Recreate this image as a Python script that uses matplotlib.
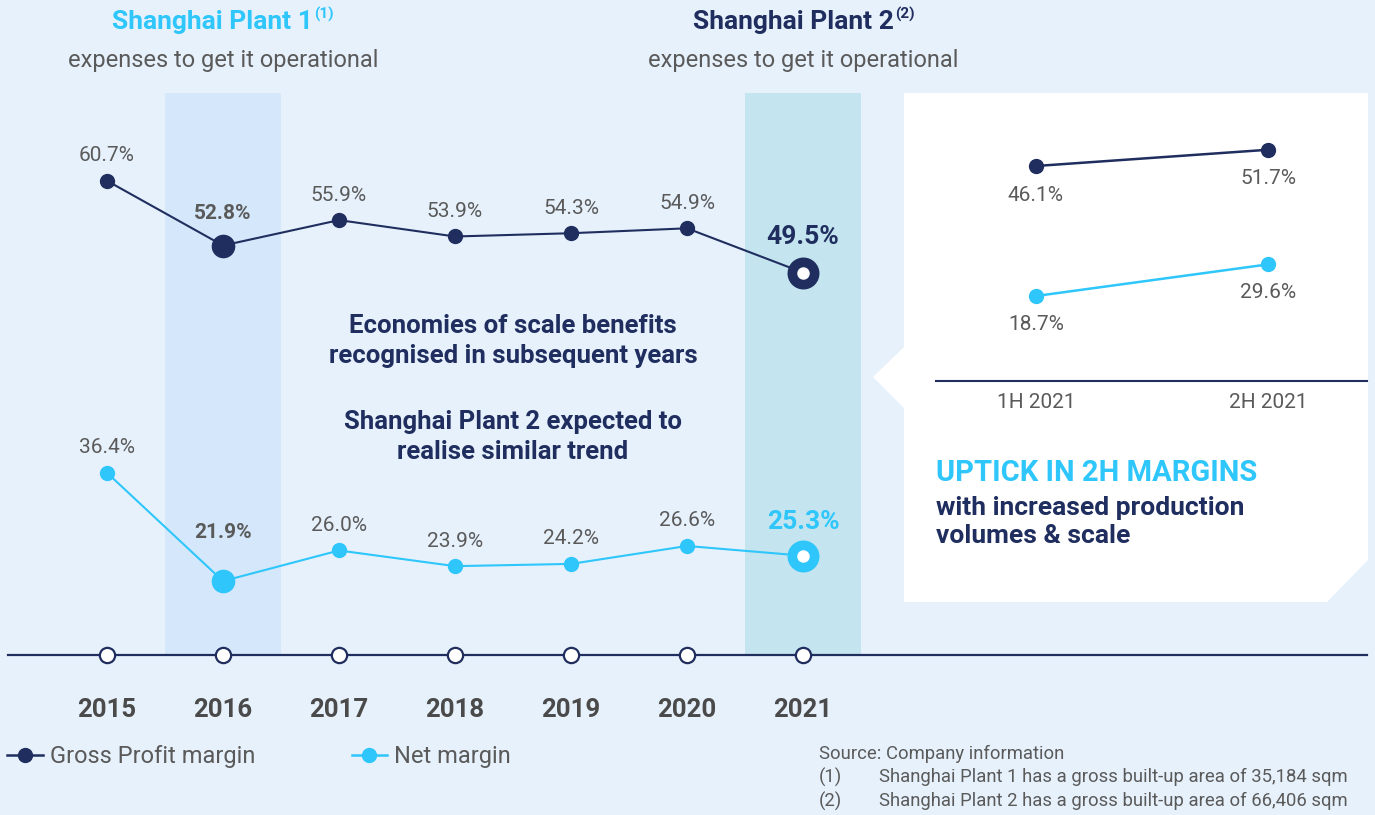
import matplotlib
matplotlib.use("Agg")
import matplotlib.pyplot as plt
from matplotlib.patches import Polygon
from matplotlib.lines import Line2D
from matplotlib.transforms import blended_transform_factory

plt.rcParams['font.family'] = ['Roboto', 'DejaVu Sans']

# ---------------- data ----------------
years = [2015, 2016, 2017, 2018, 2019, 2020, 2021]
gross_margin = [60.7, 52.8, 55.9, 53.9, 54.3, 54.9, 49.5]
net_margin = [36.4, 21.9, 26.0, 23.9, 24.2, 26.6, 25.3]
half_labels = ["1H 2021", "2H 2021"]
half_gross = [46.1, 51.7]
half_net = [18.7, 29.6]
highlight_plant1 = 2016
highlight_plant2 = 2021

# ---------------- style ----------------
BG = "#e7f1fb"
BAND1 = "#d5e8fb"
BAND2 = "#c4e5ef"
NAVY = "#1f2e5f"
CYAN = "#2ec6fb"
GRAY = "#5a5a5a"

W, H = 1375, 815
fig = plt.figure(figsize=(W / 100, H / 100), dpi=100)
fig.patch.set_facecolor(BG)

def fx(x):
    return x / W

def fy(y):
    return 1 - y / H

# --------------- white panel (behind axes) ---------------
panel = Polygon([(fx(904), fy(93)), (fx(1368), fy(93)), (fx(1368), fy(560)),
                 (fx(1327), fy(602)), (fx(904), fy(602)), (fx(904), fy(408)),
                 (fx(873), fy(377)), (fx(904), fy(347))],
                closed=True, transform=fig.transFigure, facecolor="white",
                edgecolor="none", zorder=-1)
fig.patches.append(panel)

# --------------- main axes ---------------
ax = fig.add_axes([0, 0, 1, 1])
ax.set_facecolor("none")
x0 = 2015 - 107 / 116
x1 = 2015 + (W - 107) / 116
ax.set_xlim(x0, x1)
ax.set_ylim(54.571 - (H - 231) / 8.19, 54.571 + 231 / 8.19)
ax.axis("off")

ax2 = ax.twinx()
ax2.set_ylim(26.329 - (H - 548) / 7.47, 26.329 + 548 / 7.47)
ax2.axis("off")

bt = blended_transform_factory(ax.transData, ax.transAxes)

# highlight bands
ax.axvspan(highlight_plant1 - 0.5, highlight_plant1 + 0.5, ymin=fy(655), ymax=fy(93),
           color=BAND1, lw=0, zorder=0)
ax.axvspan(highlight_plant2 - 0.5, highlight_plant2 + 0.5, ymin=fy(655), ymax=fy(93),
           color=BAND2, lw=0, zorder=0)

# timeline
ax.plot([fx(8), fx(1367)], [fy(655), fy(655)], transform=ax.transAxes,
        color=NAVY, lw=1.6, zorder=2)
ax.plot(years, [fy(655)] * len(years), transform=bt, ls="none", marker="o",
        ms=11, mfc="white", mec=NAVY, mew=1.6, zorder=3)
for yr in years:
    ax.text(yr, fy(710), str(yr), transform=bt, ha="center", va="center",
            fontsize=18.5, fontweight="bold", color="#4a4a4a")

# lines
ax.plot(years, gross_margin, color=NAVY, lw=1.5, zorder=4)
ax2.plot(years, net_margin, color=CYAN, lw=1.5, zorder=4)

for yr, g, n in zip(years, gross_margin, net_margin):
    if yr == highlight_plant1:
        ax.plot(yr, g, "o", ms=16, color=NAVY, zorder=5)
        ax2.plot(yr, n, "o", ms=16, color=CYAN, zorder=5)
        ax.annotate(f"{g:.1f}%", (yr, g), xytext=(0, 32), textcoords="offset pixels",
                    ha="center", va="center", fontsize=15, fontweight="bold", color=GRAY)
        ax2.annotate(f"{n:.1f}%", (yr, n), xytext=(0, 49), textcoords="offset pixels",
                     ha="center", va="center", fontsize=15, fontweight="bold", color=GRAY)
    elif yr == highlight_plant2:
        ax.plot(yr, g, "o", ms=16, mfc="white", mec=NAVY, mew=7, zorder=5)
        ax2.plot(yr, n, "o", ms=16, mfc="white", mec=CYAN, mew=7, zorder=5)
        ax.annotate(f"{g:.1f}%", (yr, g), xytext=(0, 36), textcoords="offset pixels",
                    ha="center", va="center", fontsize=19, fontweight="bold", color=NAVY)
        ax2.annotate(f"{n:.1f}%", (yr, n), xytext=(0, 34), textcoords="offset pixels",
                     ha="center", va="center", fontsize=19, fontweight="bold", color=CYAN)
    else:
        ax.plot(yr, g, "o", ms=10, color=NAVY, zorder=5)
        ax2.plot(yr, n, "o", ms=10, color=CYAN, zorder=5)
        ax.annotate(f"{g:.1f}%", (yr, g), xytext=(0, 25), textcoords="offset pixels",
                    ha="center", va="center", fontsize=15, color=GRAY)
        ax2.annotate(f"{n:.1f}%", (yr, n), xytext=(0, 25), textcoords="offset pixels",
                     ha="center", va="center", fontsize=15, color=GRAY)

# titles
fig.text(fx(313), fy(22), "Shanghai Plant 1", ha="right", va="center",
         fontsize=19, fontweight="bold", color=CYAN)
fig.text(fx(314), fy(14), "(1)", ha="left", va="center",
         fontsize=11, fontweight="bold", color=CYAN)
fig.text(fx(223), fy(60), "expenses to get it operational", ha="center", va="center",
         fontsize=17, color=GRAY)
fig.text(fx(894), fy(22), "Shanghai Plant 2", ha="right", va="center",
         fontsize=19, fontweight="bold", color=NAVY)
fig.text(fx(895), fy(14), "(2)", ha="left", va="center",
         fontsize=11, fontweight="bold", color=NAVY)
fig.text(fx(803), fy(60), "expenses to get it operational", ha="center", va="center",
         fontsize=17, color=GRAY)

# center commentary
fig.text(fx(513), fy(341), "Economies of scale benefits\nrecognised in subsequent years",
         ha="center", va="center", fontsize=18.5, fontweight="bold", color=NAVY,
         linespacing=1.35)
fig.text(fx(513), fy(437), "Shanghai Plant 2 expected to\nrealise similar trend",
         ha="center", va="center", fontsize=18.5, fontweight="bold", color=NAVY,
         linespacing=1.35)

# inset axes
iax = fig.add_axes([fx(936), fy(381), fx(1367) - fx(936), fy(93) - fy(381)])
iax.set_zorder(2)
iax.set_facecolor("none")
iax.set_xlim(-100 / 232, 1 + 99 / 232)
iax.set_ylim(46.1 - (381 - 166) / 2.9, 46.1 + (166 - 93) / 2.9)
for s in ["top", "right", "left"]:
    iax.spines[s].set_visible(False)
iax.spines["bottom"].set_color(NAVY)
iax.spines["bottom"].set_linewidth(1.5)
iax.set_yticks([])
iax.set_xticks([0, 1])
iax.set_xticklabels(half_labels, fontsize=15, color=GRAY)
iax.tick_params(axis="x", length=0, pad=9)
iax2 = iax.twinx()
iax2.set_ylim(18.7 - (381 - 296) / 2.9, 18.7 + (296 - 93) / 2.9)
iax2.axis("off")

iax.plot([0, 1], half_gross, color=NAVY, lw=1.8, marker="o", ms=10)
iax2.plot([0, 1], half_net, color=CYAN, lw=1.8, marker="o", ms=10)
for i, (g, n) in enumerate(zip(half_gross, half_net)):
    iax.annotate(f"{g:.1f}%", (i, g), xytext=(0, -29), textcoords="offset pixels",
                 ha="center", va="center", fontsize=15, color=GRAY)
    iax2.annotate(f"{n:.1f}%", (i, n), xytext=(0, -28), textcoords="offset pixels",
                  ha="center", va="center", fontsize=15, color=GRAY)

fig.text(fx(936), fy(473), "UPTICK IN 2H MARGINS", ha="left", va="center",
         fontsize=21, fontweight="bold", color=CYAN)
fig.text(fx(936), fy(522), "with increased production\nvolumes & scale", ha="left",
         va="center", fontsize=19, fontweight="bold", color=NAVY, linespacing=1.2)

# --------------- legend ---------------
handles = [Line2D([], [], color=NAVY, marker="o", ms=10, lw=1.8),
           Line2D([], [], color=CYAN, marker="o", ms=10, lw=1.8)]
fig.legend(handles, ["Gross Profit margin", "Net margin"], loc="center left",
           bbox_to_anchor=(fx(0), fy(757)), ncol=2, frameon=False,
           fontsize=17, labelcolor=GRAY, handlelength=1.5, handletextpad=0.3,
           columnspacing=4.1, borderaxespad=0, borderpad=0.3)

# --------------- footnotes ---------------
fs = 13.3
fig.text(fx(819), fy(754), "Source: Company information", ha="left", va="center",
         fontsize=fs, color=GRAY)
fig.text(fx(819), fy(777), "(1)", ha="left", va="center", fontsize=fs, color=GRAY)
fig.text(fx(879), fy(777), "Shanghai Plant 1 has a gross built-up area of 35,184 sqm",
         ha="left", va="center", fontsize=fs, color=GRAY)
fig.text(fx(819), fy(801), "(2)", ha="left", va="center", fontsize=fs, color=GRAY)
fig.text(fx(879), fy(801), "Shanghai Plant 2 has a gross built-up area of 66,406 sqm",
         ha="left", va="center", fontsize=fs, color=GRAY)

fig.savefig("out.png", dpi=100, facecolor=BG)
